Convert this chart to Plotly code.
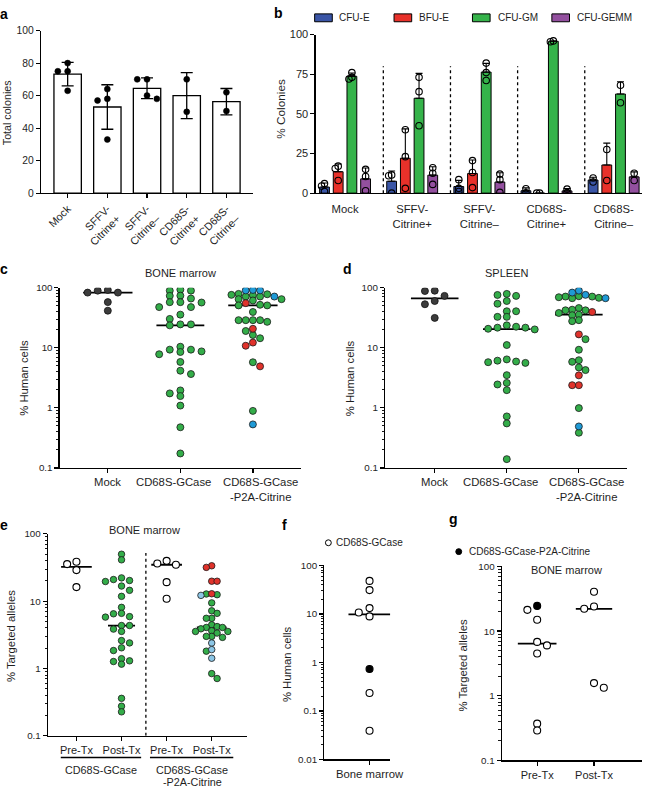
import numpy as np
import plotly.graph_objects as go

W, H = 657, 794
FONT = "Liberation Sans, Arial, Helvetica, sans-serif"
INK = "#1a1a1a"
TXT = "#1e1e1e"

# ---------------- data ----------------
# panel a: total colonies (individual replicates)
a_labels = ["Mock", "SFFV-<br>Citrine+", "SFFV-<br>Citrine–", "CD68S-<br>Citrine+", "CD68S-<br>Citrine–"]
a_mock = [80, 75, 75, 63]
a_sffv_pos = [64, 58, 57, 33]
a_sffv_neg = [70, 70, 60, 58]
a_cd68_pos = [70, 50]
a_cd68_neg = [62, 50.5]

# panel b: % colonies per colony type (replicates per condition)
b_labels = ["Mock", "SFFV-<br>Citrine+", "SFFV-<br>Citrine–", "CD68S-<br>Citrine+", "CD68S-<br>Citrine–"]
b_series = ["CFU-E", "BFU-E", "CFU-GM", "CFU-GEMM"]
b_cfu_e = [[1, 4.5, 6], [11.5, 11, 0], [8.5, 3, 1], [2.8, 0.2], [9.5, 7]]
b_bfu_e = [[17, 15.5, 8], [40, 23, 3], [20.5, 13, 3.5], [0, 0], [27.5, 8]]
b_cfu_gm = [[76, 73, 72], [73, 64, 42.5], [82, 76, 71], [96, 95.5], [68, 57]]
b_cfu_gemm = [[15, 10.5, 1.5], [16, 12.5, 5.5], [12, 8.5, 0.5], [2.5, 0.3], [12.5, 8]]

# panel c: bone marrow % human cells
c_labels = ["Mock", "CD68S-GCase", "CD68S-GCase<br>-P2A-Citrine"]
c_mock = [91.6, 89.3, 82.8, 82.8, 57.5, 41.4]
c_gcase = [92.7, 89.3, 89.3, 73.6, 73.1, 66.0, 57.4, 57.4, 56.6, 47.5, 47.5, 35.6, 30.2, 24.5,
           24.5, 23.6, 10.4, 9.3, 9.3, 8.7, 8.5, 7.8, 5.8, 4.15, 3.65, 1.95, 1.74, 1.57, 1.09,
           0.475, 0.174]
c_p2a_green = [78.8, 77.7, 75.9, 75.0, 71.2, 71.2, 64.4, 64.4, 61.2, 51.9, 50.7, 50.7, 39.4,
               28.8, 28.8, 28.8, 28.8, 27.0, 19.0, 16.3, 14.4, 5.74, 0.89]
c_p2a_red = [55.3, 20.7, 12.2, 10.8, 4.9]
c_p2a_blue = [91.7, 90.0, 90.0, 71.2, 0.53]

# panel d: spleen % human cells
d_labels = ["Mock", "CD68S-GCase", "CD68S-GCase<br>-P2A-Citrine"]
d_mock = [89, 88, 73, 60, 53, 31.4]
d_gcase = [78.8, 75.6, 73, 60, 54, 40.5, 40.5, 32.7, 32.7, 23.6, 22.4, 21.6, 21.6, 20.7, 20.2,
           11.1, 6.4, 6.1, 5.9, 5.75, 5.6, 3.5, 2.6, 2.45, 1.97, 0.72, 0.55, 0.14]
d_p2a_green = [72.0, 71.1, 71.1, 69.3, 67.8, 66.8, 45.8, 43, 42, 42, 37.9, 35.6, 34.8, 28.8,
               27.7, 13.9, 9.27, 6.2, 5.83, 4.7, 4.25, 0.99, 0.385]
d_p2a_red = [39.4, 16.7, 3.47, 2.38, 2.38]
d_p2a_blue = [89.3, 82.8, 75.9, 66.8, 0.49]

# panel e: bone marrow % targeted alleles
e_labels = ["Pre-Tx", "Post-Tx", "Pre-Tx", "Post-Tx"]
e_groups = ["CD68S-GCase", "CD68S-GCase", "-P2A-Citrine"]
e_pre_gcase = [38.5, 35.6, 29, 16.2]
e_post_gcase = [49.9, 41.2, 22.2, 21, 20.3, 19.6, 16.8, 14.5, 11.8, 8.1, 6.6, 6.5, 5.9, 5.8,
                4.35, 4.35, 3.85, 3.56, 2.6, 2.4, 2.03, 1.85, 1.4, 1.3, 1.27, 1.16, 0.36, 0.275, 0.227]
e_pre_p2a = [39.8, 36.4, 34.8, 19.2, 10.9]
e_post_p2a_red = [33.6, 31.8, 19.8, 19.8, 12.9]
e_post_p2a_blue = [12.2, 2.39, 1.91, 1.42]
e_post_p2a_green = [12.8, 12.5, 9.44, 7.2, 6.6, 5.57, 5.57, 4.46, 4.2, 4.07, 4.07, 3.89, 3.64,
                    3.55, 3.55, 3.36, 3.0, 3.0, 2.9, 1.81, 0.84, 0.71]

# panel f: bone marrow % human cells (secondary)
f_labels = ["Bone marrow"]
f_gcase = [48, 31, 13.2, 10.7, 8.9, 0.234, 0.039]
f_p2a = [0.73]

# panel g: bone marrow % targeted alleles (secondary)
g_labels = ["Pre-Tx", "Post-Tx"]
g_pre_gcase = [21.3, 15, 6.8, 6.0, 4.5, 0.37, 0.29]
g_pre_p2a = [24.5]
g_post_gcase = [40.6, 24, 22.1, 1.57, 1.33]

# ---------------- helpers ----------------
def dx(x0, x1):
    return [x0 / W, x1 / W]


def dy(top, bot):
    return [1 - bot / H, 1 - top / H]


def px(x):
    return x / W


def py(y):
    return 1 - y / H


def swarm(ypx, d, m):
    """Greedy column-grid swarm (pixel units); returns x offsets in px."""
    n = len(ypx)
    order = sorted(range(n), key=lambda i: ypx[i])
    placed = []
    off = [0.0] * n
    left_first = True
    for i in order:
        cands = [0.0]
        for k in range(1, 25):
            cands += ([-k * d, k * d] if left_first else [k * d, -k * d])
        for c in cands:
            if all((c - qx) ** 2 + (ypx[i] - qy) ** 2 >= m * m for qx, qy in placed):
                break
        if c != 0:
            left_first = not left_first
        off[i] = c
        placed.append((c, ypx[i]))
    return off


fig = go.Figure()


def dot_group(xa, ya, center, ppx, sets, to_px, d, m, med_half=None):
    allv, keys = [], []
    for si, (vals, st) in enumerate(sets):
        for v in vals:
            allv.append(v)
            keys.append(si)
    off = swarm([to_px(v) for v in allv], d, m)
    shift = (max(off) + min(off)) / 2.0 if len(off) > 1 else 0.0
    shift = 0.0 if abs(shift) < d * 0.6 else shift
    if med_half is not None:
        med = float(np.median(allv))
        fig.add_trace(go.Scatter(x=[center - med_half, center + med_half], y=[med, med], mode="lines",
                                 line=dict(color="black", width=1.8), xaxis=xa, yaxis=ya,
                                 hoverinfo="skip"))
    for si, (vals, st) in enumerate(sets):
        xs = [center + (off[k] - shift) / ppx for k in range(len(allv)) if keys[k] == si]
        ys = [allv[k] for k in range(len(allv)) if keys[k] == si]
        fig.add_trace(go.Scatter(x=xs, y=ys, mode="markers", marker=st, xaxis=xa, yaxis=ya,
                                 hoverinfo="skip"))


def mk(color, size=7, line=INK, lw=0.8):
    return dict(size=size, color=color, line=dict(color=line, width=lw))


MOCK = mk("#3c3c3c", line="#111111")
GREEN = mk("#33ad49")
RED = mk("#e0322b")
BLUE = mk("#1f9ad6")
LBLUE = mk("#8cc6e6", size=6.5)
GREEN_E = mk("#33ad49", size=6.5)
RED_E = mk("#e0322b", size=6.5)
OPEN = mk("white", size=7, line="black", lw=1.1)
FILLED = mk("black", size=7, line="black", lw=1.1)


def log_px(ppd, top):
    return lambda v: (top - np.log10(v)) * ppd


def lin_px(ppu, top):
    return lambda v: (top - v) * ppu


# ---------------- panel a ----------------
a_sets = [a_mock, a_sffv_pos, a_sffv_neg, a_cd68_pos, a_cd68_neg]
a_mean = [float(np.mean(v)) for v in a_sets]
a_sd = [float(np.std(v, ddof=1)) for v in a_sets]
fig.add_trace(go.Bar(x=list(range(len(a_labels))), y=a_mean, width=0.69,
                     marker=dict(color="white", line=dict(color="black", width=1.3)),
                     error_y=dict(type="data", array=a_sd, arrayminus=a_sd, symmetric=False,
                                  color="black", thickness=1.3, width=6),
                     xaxis="x", yaxis="y", hoverinfo="skip"))
for i, vals in enumerate(a_sets):
    dot_group("x", "y", i, 40.5, [(vals, mk("black", size=6, line="black", lw=0.5))],
              lin_px(1.65, 100), 10, 6.2)

# ---------------- panel b ----------------
b_colors = ["#3a55a6", "#e8312a", "#35b34a", "#93509f"]
b_all = [b_cfu_e, b_bfu_e, b_cfu_gm, b_cfu_gemm]
b_off = [-0.306, -0.102, 0.102, 0.306]
for k, (ser, col) in enumerate(zip(b_all, b_colors)):
    means = [float(np.mean(v)) for v in ser]
    sds = [float(np.std(v, ddof=1)) for v in ser]
    fig.add_trace(go.Bar(x=[i + b_off[k] for i in range(len(ser))], y=means, width=0.146,
                         marker=dict(color=col, line=dict(color="black", width=1)),
                         error_y=dict(type="data", array=sds, arrayminus=[0] * len(sds),
                                      symmetric=False, color="black", thickness=1.1, width=3.5),
                         xaxis="x2", yaxis="y2", hoverinfo="skip"))
for k, ser in enumerate(b_all):
    for i, vals in enumerate(ser):
        dot_group("x2", "y2", i + b_off[k], 68.5,
                  [(vals, dict(size=6.5, color="rgba(0,0,0,0)", line=dict(color="black", width=1.1)))],
                  lin_px(1.61, 100), 3, 3)
for i in range(len(b_labels) - 1):
    xs = i + 0.57
    fig.add_trace(go.Scatter(x=[xs, xs], y=[0, 80], mode="lines",
                             line=dict(color="black", width=1.3, dash="dot"),
                             xaxis="x2", yaxis="y2", hoverinfo="skip"))

# ---------------- panel c ----------------
cpx = log_px(61, 2)
dot_group("x3", "y3", 0, 74, [(c_mock, MOCK)], cpx, 10.3, 5.5, 0.34)
dot_group("x3", "y3", 1, 74, [(c_gcase, GREEN)], cpx, 10.8, 5.3, 0.33)
dot_group("x3", "y3", 2, 74, [(c_p2a_green, GREEN), (c_p2a_red, RED), (c_p2a_blue, BLUE)],
          cpx, 7.3, 5.3, 0.34)

# ---------------- panel d ----------------
dpx = log_px(61, 2)
dot_group("x4", "y4", 0, 73.5, [(d_mock, MOCK)], dpx, 10, 5.5, 0.33)
dot_group("x4", "y4", 1, 73.5, [(d_gcase, GREEN)], dpx, 9.5, 5.3, 0.33)
dot_group("x4", "y4", 2, 73.5, [(d_p2a_green, GREEN), (d_p2a_red, RED), (d_p2a_blue, BLUE)],
          dpx, 6.8, 5.3, 0.33)

# ---------------- panel e ----------------
epx = log_px(68.3, 2)
dot_group("x5", "y5", 0, 46, [(e_pre_gcase, OPEN)], epx, 9.5, 6.5, 0.34)
dot_group("x5", "y5", 1, 46, [(e_post_gcase, GREEN_E)], epx, 8.2, 5.3, 0.3)
dot_group("x5", "y5", 2, 46, [(e_pre_p2a, OPEN)], epx, 9.5, 6.5, 0.34)
dot_group("x5", "y5", 3, 46, [(e_post_p2a_green, GREEN_E), (e_post_p2a_red, RED_E),
                              (e_post_p2a_blue, LBLUE)], epx, 5.5, 5.3, 0.33)
fig.add_trace(go.Scatter(x=[1.54, 1.54], y=[0.1, 52], mode="lines",
                         line=dict(color="black", width=1.3, dash="dot"),
                         xaxis="x5", yaxis="y5", hoverinfo="skip"))

# ---------------- panel f ----------------
dot_group("x6", "y6", 0, 50, [(f_gcase, OPEN), (f_p2a, FILLED)], log_px(49.25, 2), 11, 6.8, 0.43)

# ---------------- panel g ----------------
gpx = log_px(65.67, 2)
dot_group("x7", "y7", 0, 58, [(g_pre_gcase, OPEN), (g_pre_p2a, FILLED)], gpx, 10, 6.8, 0.34)
dot_group("x7", "y7", 1, 58, [(g_post_gcase, OPEN)], gpx, 10, 6.8, 0.32)

# ---------------- axes ----------------
def ax(**kw):
    base = dict(showline=True, linecolor="black", linewidth=1.3, ticks="outside", ticklen=4,
                tickwidth=1.2, tickcolor="black", showgrid=False, zeroline=False,
                tickfont=dict(family=FONT, size=10, color=TXT), fixedrange=True, tickangle=0)
    base.update(kw)
    return base


def log_minor(lo, hi):
    vals = []
    for e in range(lo, hi):
        for k in range(2, 10):
            vals.append(k * 10.0 ** e)
    return dict(ticks="outside", ticklen=2.2, tickwidth=0.9, tickcolor="black",
                tickmode="array", tickvals=vals, showgrid=False)


def fmt(v):
    return ("%g" % v)


def log_y(domain, lo, hi, size=9.8):
    tv = [10.0 ** e for e in range(lo, hi + 1)]
    return ax(domain=domain, type="log", range=[lo, hi], tickvals=tv, ticktext=[fmt(v) for v in tv],
              minor=log_minor(lo, hi), tickfont=dict(family=FONT, size=size, color=TXT))


layout = dict(
    width=W, height=H, margin=dict(l=0, r=0, t=0, b=0),
    paper_bgcolor="white", plot_bgcolor="white", showlegend=False,
    font=dict(family=FONT, color=TXT),
    xaxis=ax(domain=dx(42, 258), range=[-0.667, 4.667], anchor="y", tickmode="array",
             tickvals=list(range(len(a_labels))), ticktext=a_labels, tickangle=-45,
             tickfont=dict(family=FONT, size=10.8, color=TXT)),
    yaxis=ax(domain=dy(25, 190), range=[0, 100], anchor="x", tickvals=[0, 20, 40, 60, 80, 100],
             tickfont=dict(family=FONT, size=10.3, color=TXT)),
    xaxis2=ax(domain=dx(322, 655), range=[-0.438, 4.423], anchor="y2", tickmode="array",
              tickvals=list(range(len(b_labels))), ticktext=b_labels, tickcolor="rgba(0,0,0,0)",
              ticklen=5, tickfont=dict(family=FONT, size=11.3, color=TXT)),
    yaxis2=ax(domain=dy(29, 190), range=[0, 100], anchor="x2", tickvals=[0, 25, 50, 75, 100],
              tickfont=dict(family=FONT, size=11, color=TXT)),
    xaxis3=ax(domain=dx(61, 307), range=[-0.662, 2.662], anchor="y3", tickmode="array",
              tickvals=[0, 1, 2], showticklabels=False),
    yaxis3=log_y(dy(286, 469), -1, 2),
    xaxis4=ax(domain=dx(393, 640), range=[-0.687, 2.673], anchor="y4", tickmode="array",
              tickvals=[0, 1, 2], showticklabels=False),
    yaxis4=log_y(dy(286, 469), -1, 2),
    xaxis5=ax(domain=dx(49, 252), range=[-0.63, 3.783], anchor="y5", tickmode="array",
              tickvals=[0, 1, 2, 3], ticktext=e_labels, tickfont=dict(family=FONT, size=11, color=TXT)),
    yaxis5=log_y(dy(536, 741), -1, 2),
    xaxis6=ax(domain=dx(331, 398), range=[-0.92, 0.42], anchor="y6", tickmode="array",
              tickvals=[0], ticktext=f_labels, tickfont=dict(family=FONT, size=11.3, color=TXT)),
    yaxis6=log_y(dy(568, 765), -2, 2),
    xaxis7=ax(domain=dx(512, 655), range=[-0.621, 1.845], anchor="y7", tickmode="array",
              tickvals=[0, 1], ticktext=g_labels, tickfont=dict(family=FONT, size=11, color=TXT)),
    yaxis7=log_y(dy(569, 766), -1, 2),
)
for i in range(3, 8):
    layout["yaxis%d" % i]["anchor"] = "x%d" % i

anns = []


def text(t, x, y, size=11.3, xa="center", ya="middle", angle=0, bold=False, color=TXT, xref="paper"):
    anns.append(dict(text=("<b>%s</b>" % t) if bold else t, x=px(x) if xref == "paper" else x,
                     y=py(y), xref=xref, yref="paper", showarrow=False, xanchor=xa, yanchor=ya,
                     textangle=angle, font=dict(family=FONT, size=size, color=color)))


# category labels for c and d (nudged apart like the original)
for xr, labels in [("x3", c_labels), ("x4", d_labels)]:
    nudges = [0.0, -0.09, 0.1]
    for i, lab in enumerate(labels):
        text(lab, i + nudges[i], 475, size=11.3, ya="top", xref=xr)

# panel letters
for lab, x, y in [("a", 4, 8), ("b", 284, 7), ("c", 4, 267), ("d", 355, 267), ("e", 4, 527),
                  ("f", 290, 527), ("g", 463, 521)]:
    text(lab, x, y, size=14, bold=True, color="black")

# axis titles
text("Total colonies", 8, 108, size=10.7, angle=-90)
text("% Colonies", 287, 104, size=11.8, angle=-90)
text("% Human cells", 25, 378, size=11.3, angle=-90)
text("% Human cells", 357, 378, size=11.3, angle=-90)
text("% Targeted alleles", 12, 640, size=11.3, angle=-90)
text("% Human cells", 293, 668, size=11.3, angle=-90)
text("% Targeted alleles", 472, 670, size=11.3, angle=-90)

# panel titles
text("BONE marrow", 184, 271, size=11)
text("SPLEEN", 517, 271, size=11)
text("BONE marrow", 147, 532, size=11)
text("BONE marrow", 578, 573, size=11)

# panel e group labels
text(e_groups[0], 103, 776, size=10.8)
text(e_groups[1], 196, 776, size=10.8)
text(e_groups[2], 196, 788, size=10.8)

# legend b
shapes = []
for name, col, x0, tx in zip(b_series, b_colors, [321, 402, 482, 563], [344, 425, 506, 587]):
    shapes.append(dict(type="rect", xref="paper", yref="paper", x0=px(x0), x1=px(x0 + 18),
                       y0=py(16), y1=py(8), fillcolor=col, line=dict(color="black", width=1)))
    text(name, tx, 12, size=10, xa="left")

# legends f, g
shapes.append(dict(type="circle", xref="paper", yref="paper", x0=px(332), x1=px(338),
                   y0=py(548), y1=py(542), fillcolor="white", line=dict(color="black", width=1)))
text("CD68S-GCase", 341, 545, size=10, xa="left")
shapes.append(dict(type="circle", xref="paper", yref="paper", x0=px(465), x1=px(471),
                   y0=py(557), y1=py(551), fillcolor="black", line=dict(color="black", width=1)))
text("CD68S-GCase-P2A-Citrine", 476, 554, size=10, xa="left")

# panel e underlines
for x0, x1 in [(62, 144), (153, 238)]:
    shapes.append(dict(type="line", xref="paper", yref="paper", x0=px(x0), x1=px(x1),
                       y0=py(763), y1=py(763), line=dict(color="black", width=1.5)))

layout["annotations"] = anns
layout["shapes"] = shapes
fig.update_layout(**layout)
fig.write_html("out.html", config={"displayModeBar": False, "staticPlot": True},
               post_script="document.body.style.margin='0';document.body.style.overflow='hidden';")
